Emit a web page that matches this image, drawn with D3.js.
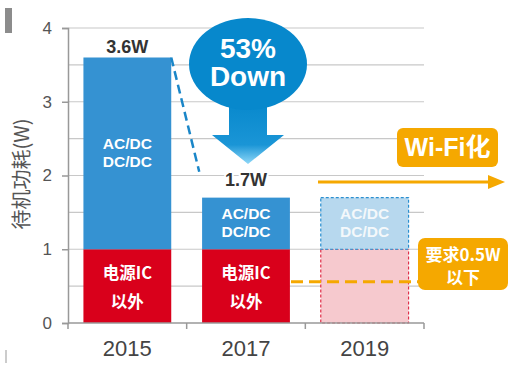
<!DOCTYPE html>
<html><head><meta charset="utf-8">
<script src="https://cdn.jsdelivr.net/npm/d3@7"></script>
<style>body{margin:0;background:#fff;}svg{display:block;font-family:"Liberation Sans",Arial,sans-serif;}</style>
</head><body><svg id="c" width="514" height="370"></svg>
<script>
const categories = ["2015", "2017", "2019"];
const otherValues = [1, 1, 1];          // 电源IC以外
const acdcValues = [2.6, 0.7, 0.7];      // AC/DC DC/DC
const totalLabels = ["3.6W", "1.7W", ""];
const yTicks = [0, 1, 2, 3, 4];
const gridValues = [0.5, 1, 1.5, 2, 2.5, 3, 3.5, 4];
const targetValue = 0.56;

const svg = d3.select("#c");
const x = d3.scaleBand().domain(categories).range([68, 424]).paddingInner(0.26).paddingOuter(0.13);
const y = d3.scaleLinear().domain([0, 4]).range([323, 28]);
const CJK = "'Noto Sans CJK SC',sans-serif";

// grid
svg.append("g").selectAll("line").data(gridValues).join("line")
  .attr("x1", 68).attr("x2", 424).attr("y1", d => y(d)).attr("y2", d => y(d))
  .attr("stroke", "#c8c8c8").attr("stroke-width", 1.2);

const future = i => categories[i] === "2019";
const labelGap = [5, 12, 0];

// bars
const g = svg.append("g");
categories.forEach((c, i) => {
  const bx = x(c), bw = x.bandwidth();
  g.append("rect").attr("x", bx).attr("width", bw)
    .attr("y", y(otherValues[i])).attr("height", y(0) - y(otherValues[i]))
    .attr("fill", future(i) ? "#f6c9ce" : "#d9001b")
    .attr("stroke", future(i) ? "#e0304a" : "none").attr("stroke-width", 1.2)
    .attr("stroke-dasharray", future(i) ? "3,2" : null);
  const top = otherValues[i] + acdcValues[i];
  g.append("rect").attr("x", bx).attr("width", bw)
    .attr("y", y(top)).attr("height", y(otherValues[i]) - y(top))
    .attr("fill", future(i) ? "#b7d8ee" : "#3592d2")
    .attr("stroke", future(i) ? "#2a8fd0" : "none").attr("stroke-width", 1.2)
    .attr("stroke-dasharray", future(i) ? "3,2" : null);
  const cx = bx + bw / 2;
  const midTop = (y(top) + y(otherValues[i])) / 2;
  const tcol = future(i) ? "#f4f8fb" : "#fff";
  g.append("text").attr("x", cx).attr("y", midTop - 4.5).attr("text-anchor", "middle")
    .attr("fill", tcol).attr("font-size", 15.5).attr("font-weight", "bold").text("AC/DC");
  g.append("text").attr("x", cx).attr("y", midTop + 13.5).attr("text-anchor", "middle")
    .attr("fill", tcol).attr("font-size", 15.5).attr("font-weight", "bold").text("DC/DC");
  if (!future(i)) {
    g.append("text").attr("x", cx).attr("y", 279).attr("text-anchor", "middle")
      .attr("fill", "#fff").attr("font-size", 16.5).attr("font-weight", "bold")
      .attr("font-family", CJK).text("电源IC");
    g.append("text").attr("x", cx).attr("y", 308).attr("text-anchor", "middle")
      .attr("fill", "#fff").attr("font-size", 16.5).attr("font-weight", "bold")
      .attr("font-family", CJK).text("以外");
  }
  if (totalLabels[i]) {
    g.append("text").attr("x", cx).attr("y", y(top) - labelGap[i]).attr("text-anchor", "middle")
      .attr("fill", "#333").attr("font-size", 18).attr("font-weight", "bold")
      .attr("stroke", "#fff").attr("stroke-width", 4).attr("paint-order", "stroke")
      .text(totalLabels[i]);
  }
});

// axes
const ya = svg.append("g").attr("transform", "translate(68,0)")
  .call(d3.axisLeft(y).tickValues(yTicks).tickSize(6).tickPadding(10).tickFormat(d3.format("d")));
ya.select(".domain").attr("stroke", "#999").attr("stroke-width", 1.5);
ya.selectAll(".tick line").attr("stroke", "#999").attr("stroke-width", 1.5);
ya.selectAll("text").attr("font-size", 17).attr("fill", "#555").attr("font-family", "'Liberation Sans',Arial,sans-serif");

const xa = svg.append("g").attr("transform", "translate(0,323)")
  .call(d3.axisBottom(x).tickSize(0).tickPadding(17));
xa.select(".domain").remove();
xa.selectAll("text").attr("font-size", 22).attr("fill", "#444").attr("font-family", "'Liberation Sans',Arial,sans-serif");
svg.append("line").attr("x1", 68).attr("x2", 424).attr("y1", 323).attr("y2", 323).attr("stroke", "#999").attr("stroke-width", 1.5);
const bounds = [68, ...categories.map(c => x(c) + x.bandwidth() + x.step() * x.paddingInner() / 2)];
bounds[bounds.length - 1] = 424;
svg.append("g").selectAll("line").data(bounds).join("line")
  .attr("x1", d => d).attr("x2", d => d).attr("y1", 323).attr("y2", 329).attr("stroke", "#999").attr("stroke-width", 1.5);

// y label
svg.append("text").attr("transform", "translate(29,174) rotate(-90)").attr("text-anchor", "middle")
  .attr("font-size", 20).attr("fill", "#555").attr("font-family", CJK).text("待机功耗(W)");

// decorations
svg.append("rect").attr("x", 5).attr("y", 8).attr("width", 7).attr("height", 25).attr("fill", "#8c8c8c");
svg.append("line").attr("x1", 6).attr("x2", 6).attr("y1", 350).attr("y2", 363).attr("stroke", "#999").attr("stroke-width", 1);

// dashed drop line
const b0 = x(categories[0]) + x.bandwidth();
svg.append("line").attr("x1", b0).attr("y1", y(3.6)).attr("x2", b0 + 28).attr("y2", y(2.05))
  .attr("stroke", "#1a86c8").attr("stroke-width", 2.5).attr("stroke-dasharray", "9,5");

// 53% down callout
const defs = svg.append("defs");
const grad = defs.append("linearGradient").attr("id", "bg").attr("x1", 0).attr("x2", 0).attr("y1", 0).attr("y2", 1);
grad.append("stop").attr("offset", "0%").attr("stop-color", "#0788cc");
grad.append("stop").attr("offset", "70%").attr("stop-color", "#1a95d6");
grad.append("stop").attr("offset", "100%").attr("stop-color", "#8fd8f8");
const cxp = 248;
svg.append("path").attr("fill", "url(#bg)")
  .attr("d", `M${cxp - 19},100 L${cxp - 19},135 L${cxp - 36},135 L${cxp},164 L${cxp + 36},135 L${cxp + 19},135 L${cxp + 19},100 Z`);
svg.append("ellipse").attr("cx", cxp).attr("cy", 64).attr("rx", 59).attr("ry", 46).attr("fill", "#0788cc");
svg.append("text").attr("x", cxp).attr("y", 58).attr("text-anchor", "middle").attr("fill", "#fff")
  .attr("font-size", 28).attr("font-weight", "bold").text("53%");
svg.append("text").attr("x", cxp).attr("y", 86).attr("text-anchor", "middle").attr("fill", "#fff")
  .attr("font-size", 28).attr("font-weight", "bold").text("Down");

// Wi-Fi化 label and arrow
svg.append("rect").attr("x", 397).attr("y", 128).attr("width", 101).attr("height", 39).attr("rx", 6).attr("fill", "#f5a800");
svg.append("text").attr("x", 447.5).attr("y", 156).attr("text-anchor", "middle").attr("fill", "#fff")
  .attr("font-size", 25).attr("font-weight", "bold").attr("font-family", "'Liberation Sans','Noto Sans CJK SC',sans-serif").text("Wi-Fi化");
svg.append("line").attr("x1", 318).attr("x2", 490).attr("y1", 182).attr("y2", 182).attr("stroke", "#f5a800").attr("stroke-width", 3);
svg.append("path").attr("d", "M488,175 L505,182 L488,189 Z").attr("fill", "#f5a800");

// 0.5W target
svg.append("line").attr("x1", 291).attr("x2", 418).attr("y1", y(targetValue)).attr("y2", y(targetValue))
  .attr("stroke", "#f5a800").attr("stroke-width", 3).attr("stroke-dasharray", "12,6");
svg.append("rect").attr("x", 418).attr("y", 238).attr("width", 90).attr("height", 52).attr("rx", 7).attr("fill", "#f5a800");
svg.append("text").attr("x", 463).attr("y", 261).attr("text-anchor", "middle").attr("fill", "#fff")
  .attr("font-size", 17).attr("font-weight", "bold").attr("font-family", CJK).text("要求0.5W");
svg.append("text").attr("x", 463).attr("y", 284).attr("text-anchor", "middle").attr("fill", "#fff")
  .attr("font-size", 17).attr("font-weight", "bold").attr("font-family", CJK).text("以下");
</script></body></html>
